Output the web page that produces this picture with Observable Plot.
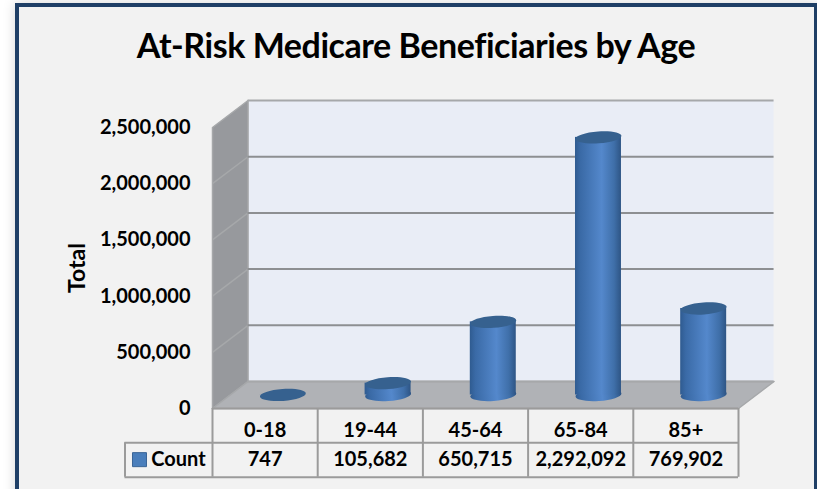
<!DOCTYPE html>
<html>
<head>
<meta charset="utf-8">
<script src="https://cdn.jsdelivr.net/npm/d3@7"></script>
<script src="https://cdn.jsdelivr.net/npm/@observablehq/plot@0.6"></script>
<style>
  html, body { margin: 0; padding: 0; width: 817px; height: 489px; overflow: hidden; background: #fff; }
  #frame { position: absolute; left: 15px; top: 3px; width: 803px; height: 520px; box-sizing: border-box;
           border: 4px solid #1f3f66; background: #f2f2f2; box-shadow: 0 0 12px rgba(0,0,0,.16); }
  #page { position: absolute; left: 0; top: 0; width: 817px; }
  h1 { margin: 0; height: 80px; box-sizing: border-box; padding-top: 25px; text-align: center;
       font: 700 34px/40px Lato, sans-serif; color: #000; letter-spacing: -0.45px; padding-left: 15px; }
  svg { display: block; }
</style>
</head>
<body>
<div id="frame"></div>
<div id="page"><h1>At-Risk Medicare Beneficiaries by Age</h1></div>
<script>
const categories = ["0-18", "19-44", "45-64", "65-84", "85+"];
const counts = [747, 105682, 650715, 2292092, 769902];
const countLabels = ["747", "105,682", "650,715", "2,292,092", "769,902"];
const valueTicks = [0, 500000, 1000000, 1500000, 2000000, 2500000];
const seriesName = "Count";
const axisTitle = "Total";

// Oblique depth of the 3-D box, expressed in data units
const depthX = 0.338;
const depthY = 240000;
const maxValue = 2500000;
const n = categories.length;
const barWidth = 0.437;
// Table rows sit below zero on the value axis
const row1 = -305000, row2 = -612000, rowText1 = -196000, rowText2 = -455000;
const legendLeft = -0.832;

const rows = categories.map((c, i) => ({i, c, v: counts[i], label: countLabels[i],
  cx: i + 0.5 + depthX / 2, base: depthY / 2, top: counts[i] + depthY / 2}));

const ellipse = {
  draw(ctx, size) {
    const rx = Math.sqrt(size / Math.PI), ry = rx * 0.26, k = 0.5523;
    ctx.moveTo(-rx, 0);
    ctx.bezierCurveTo(-rx, -ry * k, -rx * k, -ry, 0, -ry);
    ctx.bezierCurveTo(rx * k, -ry, rx, -ry * k, rx, 0);
    ctx.bezierCurveTo(rx, ry * k, rx * k, ry, 0, ry);
    ctx.bezierCurveTo(-rx * k, ry, -rx, ry * k, -rx, 0);
    ctx.closePath();
  }
};

const wall = "#e9edf6", side = "#97999d", floor = "#b0b2b6", edge = "#a6a8aa", grid = "#8d8f92", line = "#9b9b9b";
const closed = (pts) => [...pts, pts[0]];

const chart = Plot.plot({
  width: 817, height: 409,
  marginLeft: 212, marginRight: 79, marginTop: 47, marginBottom: 81,
  style: {background: "transparent", fontFamily: "Lato, sans-serif", fontWeight: 700, fontSize: "20px", color: "#000", overflow: "visible"},
  x: {domain: [0, n], axis: null},
  y: {domain: [0, maxValue], axis: null},
  marks: [
    // Back wall
    Plot.rect([0], {x1: depthX, x2: n + depthX, y1: depthY, y2: maxValue + depthY, fill: wall}),
    // Side wall
    Plot.line(closed([[0, 0], [0, maxValue], [depthX, maxValue + depthY], [depthX, depthY]]),
      {x: "0", y: "1", fill: side, stroke: edge, strokeWidth: 1.5}),
    // Floor
    Plot.line(closed([[0, 0], [n, 0], [n + depthX, depthY], [depthX, depthY]]),
      {x: "0", y: "1", fill: floor, stroke: edge, strokeWidth: 1.5}),
    // Grid on the side wall and on the back wall
    Plot.link(valueTicks.slice(1, -1), {x1: () => 0, y1: d => d, x2: () => depthX, y2: d => d + depthY, stroke: edge, strokeWidth: 1.5}),
    Plot.ruleY(valueTicks.slice(1, -1), {y: d => d + depthY, x1: depthX, x2: n + depthX, stroke: grid, strokeWidth: 2}),
    Plot.ruleY(valueTicks.slice(-1), {y: d => d + depthY, x1: depthX, x2: n + depthX, stroke: edge, strokeWidth: 2}),
    Plot.ruleY([0], {y: d => d + depthY, x1: depthX, x2: n + depthX, stroke: edge, strokeWidth: 2}),

    // Cylinders
    Plot.dot(rows, {x: "cx", y: "base", r: 23, symbol: ellipse, rotate: -4, fill: d => d.v > 5000 ? "url(#cyl)" : "none"}),
    Plot.rect(rows, {x1: d => d.cx - barWidth / 2, x2: d => d.cx + barWidth / 2, y1: "base", y2: "top", fill: "url(#cyl)"}),
    Plot.dot(rows, {x: "cx", y: "top", r: 23, symbol: ellipse, rotate: -4, fill: "#36618f"}),

    // Table
    Plot.ruleY([0], {x1: 0, x2: n, stroke: line, strokeWidth: 2}),
    Plot.ruleY([row1, row2], {x1: legendLeft, x2: n, stroke: line, strokeWidth: 2}),
    Plot.ruleX(d3.range(n + 1), {y1: 0, y2: row2, stroke: line, strokeWidth: 2}),
    Plot.ruleX([legendLeft], {y1: row1, y2: row2, stroke: line, strokeWidth: 2}),
    Plot.text(rows, {x: d => d.i + 0.5, y: () => rowText1, text: "c", textAnchor: "middle", fill: "#000"}),
    Plot.text(rows, {x: d => d.i + 0.5, y: () => rowText2, text: "label", textAnchor: "middle", fill: "#000"}),
    Plot.dot([seriesName], {x: () => -0.694, y: () => rowText2, symbol: "square", r: 7.9, fill: "#4a7ebb", stroke: "#3a6596", strokeWidth: 1}),
    Plot.text([seriesName], {x: () => -0.323, y: () => rowText2, text: d => d, textAnchor: "middle", fill: "#000"}),

    // Value axis
    Plot.axisY({ticks: valueTicks, tickSize: 0, tickPadding: 22, tickFormat: d3.format(","), label: null}),
    Plot.text([axisTitle], {x: () => -1.283, y: () => maxValue / 2, text: d => d, rotate: -90, fontSize: 23, fill: "#000"})
  ]
});

const defs = d3.select(chart).insert("defs", ":first-child");
const g = defs.append("linearGradient").attr("id", "cyl").attr("x1", 0).attr("x2", 1).attr("y1", 0).attr("y2", 0);
[[0, "#2f5b90"], [0.12, "#3a6aa6"], [0.58, "#5488cc"], [0.85, "#3f6fa9"], [1, "#2e5585"]]
  .forEach(([o, c]) => g.append("stop").attr("offset", o).attr("stop-color", c));

document.getElementById("page").appendChild(chart);
</script>
</body>
</html>
